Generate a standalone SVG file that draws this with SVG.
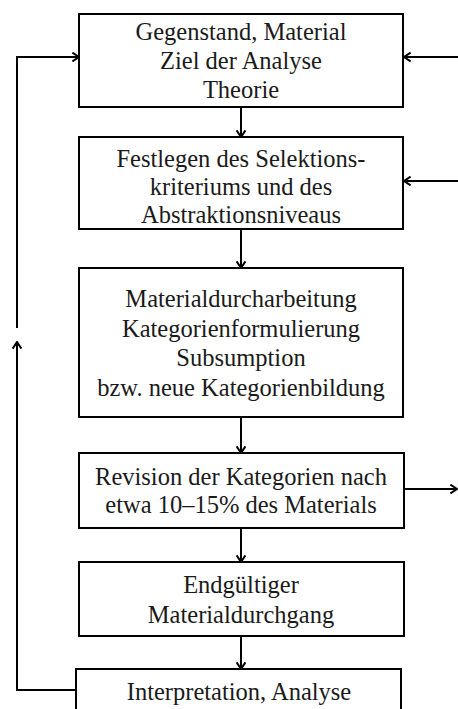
<svg xmlns="http://www.w3.org/2000/svg" width="458" height="709" viewBox="0 0 458 709">
<style>
.box{fill:#fff;stroke:#000;stroke-width:2}
.t{font-size:24.5px;fill:#1a1a1a;text-anchor:middle}
.c{fill:none;stroke:#000;stroke-width:2}
</style>
<defs>
<marker id="ah" viewBox="0 0 10 10" refX="9" refY="5" markerWidth="11" markerHeight="11" markerUnits="userSpaceOnUse" orient="auto">
<path d="M3,1 L9,5 L3,9" fill="none" stroke="#000" stroke-width="1.8"/>
</marker>
</defs>
<rect width="458" height="709" fill="#fff"/>
<g id="connectors">
<path class="c" d="M241,107 V137" marker-end="url(#ah)"/>
<path class="c" d="M241,229 V268" marker-end="url(#ah)"/>
<path class="c" d="M241,417 V453" marker-end="url(#ah)"/>
<path class="c" d="M241,528 V562" marker-end="url(#ah)"/>
<path class="c" d="M241,636 V669" marker-end="url(#ah)"/>
<path class="c" d="M17,328 V57 H79" marker-end="url(#ah)"/>
<path class="c" d="M76,690 H17 V342" marker-end="url(#ah)"/>
<path class="c" d="M458,57 H404" marker-end="url(#ah)"/>
<path class="c" d="M458,181 H404" marker-end="url(#ah)"/>
<path class="c" d="M404,489 H457" marker-end="url(#ah)"/>
</g>
<g font-family="Liberation Serif, Times New Roman, serif">
<g id="n1"><rect class="box" x="79" y="14" width="324" height="93"/>
<text class="t" x="241" y="40">Gegenstand, Material</text>
<text class="t" x="241" y="69">Ziel der Analyse</text>
<text class="t" x="241" y="98">Theorie</text></g>
<g id="n2"><rect class="box" x="79" y="137" width="324" height="92"/>
<text class="t" x="241" y="167">Festlegen des Selektions-</text>
<text class="t" x="241" y="195">kriteriums und des</text>
<text class="t" x="241" y="223">Abstraktionsniveaus</text></g>
<g id="n3"><rect class="box" x="79" y="268" width="324" height="149"/>
<text class="t" x="241" y="307">Materialdurcharbeitung</text>
<text class="t" x="241" y="337">Kategorienformulierung</text>
<text class="t" x="241" y="366">Subsumption</text>
<text class="t" x="241" y="396">bzw. neue Kategorienbildung</text></g>
<g id="n4"><rect class="box" x="79" y="453" width="325" height="75"/>
<text class="t" x="241" y="485">Revision der Kategorien nach</text>
<text class="t" x="241" y="513">etwa 10–15% des Materials</text></g>
<g id="n5"><rect class="box" x="79" y="562" width="325" height="74"/>
<text class="t" x="241" y="593">Endgültiger</text>
<text class="t" x="241" y="623">Materialdurchgang</text></g>
<g id="n6"><rect class="box" x="76" y="669" width="325" height="60"/>
<text class="t" x="239" y="700">Interpretation, Analyse</text></g>
</g>
</svg>
